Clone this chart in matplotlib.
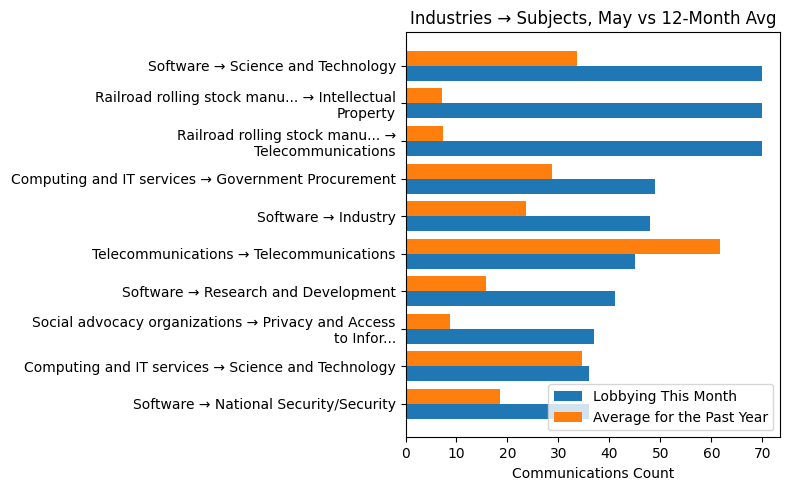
import matplotlib
matplotlib.use("Agg")
import matplotlib.pyplot as plt
import numpy as np

categories = [
    "Software → Science and Technology",
    "Railroad rolling stock manu... → Intellectual\nProperty",
    "Railroad rolling stock manu... →\nTelecommunications",
    "Computing and IT services → Government Procurement",
    "Software → Industry",
    "Telecommunications → Telecommunications",
    "Software → Research and Development",
    "Social advocacy organizations → Privacy and Access\nto Infor...",
    "Computing and IT services → Science and Technology",
    "Software → National Security/Security",
]
this_month = [70, 70, 70, 49, 48, 45, 41, 37, 36, 36]
past_year_avg = [33.7, 7.1, 7.3, 28.7, 23.6, 61.7, 15.8, 8.7, 34.6, 18.5]

fig, ax = plt.subplots(figsize=(7.9, 4.9), dpi=100)
y = np.arange(len(categories))
h = 0.4
ax.barh(y + h / 2, this_month, h, label="Lobbying This Month", color="#1f77b4")
ax.barh(y - h / 2, past_year_avg, h, label="Average for the Past Year", color="#ff7f0e")
ax.set_yticks(y)
ax.set_yticklabels(categories)
ax.invert_yaxis()
ax.set_xlabel("Communications Count")
ax.set_title("Industries → Subjects, May vs 12-Month Avg")
ax.legend(loc="lower right")
fig.subplots_adjust(left=0.5133, right=0.9877, top=0.9337, bottom=0.1076)
fig.savefig("out.png", dpi=100)
